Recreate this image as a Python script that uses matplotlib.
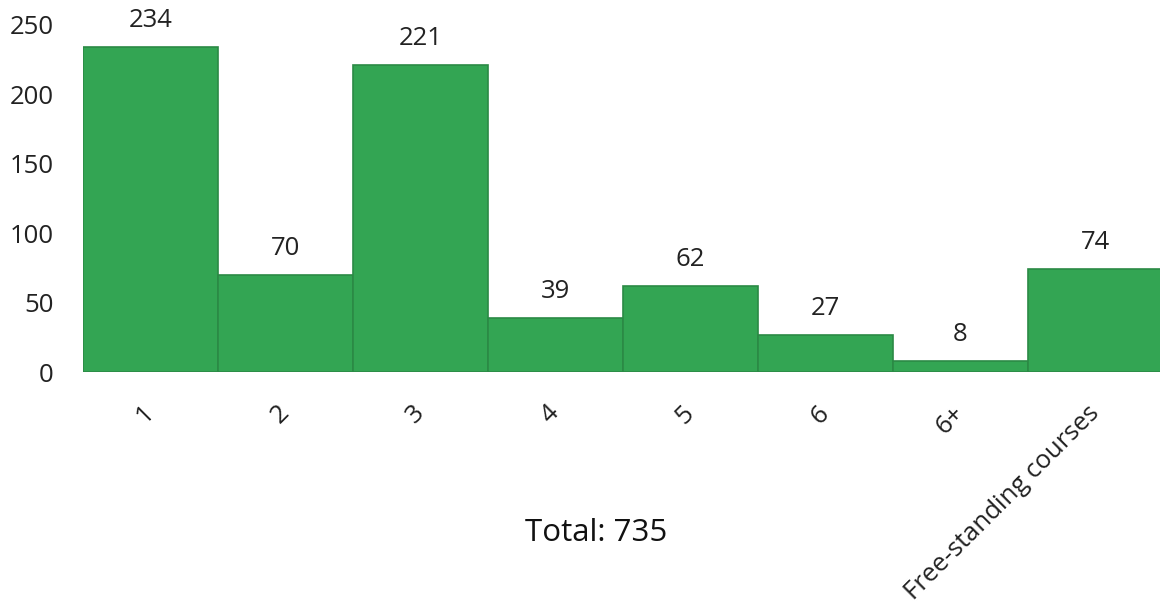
import matplotlib
matplotlib.use('Agg')
import matplotlib.pyplot as plt

# data
categories = ['1', '2', '3', '4', '5', '6', '6+', 'Free-standing courses']
counts = [234, 70, 221, 39, 62, 27, 8, 74]
total_label = 'Total: 735'

plt.rcParams['font.family'] = ['Open Sans', 'DejaVu Sans']

fig = plt.figure(figsize=(11.6, 6.09), dpi=100)
ax = fig.add_axes([83 / 1160, 1 - 372 / 609, 1080 / 1160, 372 / 609])

bars = ax.bar(range(len(categories)), counts, width=1.0, color='#33a553',
              edgecolor='#2b8a45', linewidth=1.2)
ax.bar_label(bars, labels=[str(c) for c in counts], padding=10, fontsize=18.5, color='#222222')

ax.set_xlim(-0.5, len(categories) - 0.5)
ax.set_ylim(0, 268)
ax.set_yticks([0, 50, 100, 150, 200, 250])
ax.set_xticks(range(len(categories)))
ax.set_xticklabels(categories, rotation=45, ha='right', va='center', rotation_mode='anchor',
                   fontsize=18.5, color='#222222')
ax.tick_params(axis='y', length=0, pad=21, labelsize=18.5, labelcolor='#222222')
ax.tick_params(axis='x', length=0, pad=27)
for s in ax.spines.values():
    s.set_visible(False)
ax.axhline(0, color='#dddddd', linewidth=1, zorder=0)

fig.text(596 / 1160, 1 - 533 / 609, total_label, ha='center', va='center', fontsize=22.5, color='#111111')

fig.savefig('out.png', dpi=100)
